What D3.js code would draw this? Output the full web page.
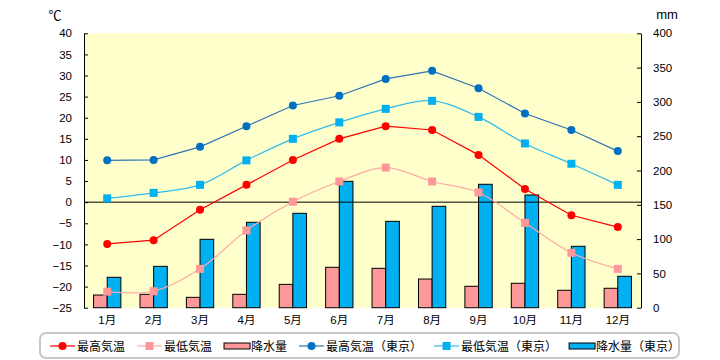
<!DOCTYPE html>
<html><head><meta charset="utf-8">
<script src="https://cdn.jsdelivr.net/npm/d3@7"></script>
<style>
body{margin:0;background:#fff;}
text{font-family:"Liberation Sans","Noto Sans CJK JP",sans-serif;}
</style></head>
<body><svg id="c" width="720" height="360"></svg>
<script>
const months = ["1月","2月","3月","4月","5月","6月","7月","8月","9月","10月","11月","12月"];
const highTemp = [-9.9,-9,-1.8,4.1,10,15,18,17.1,11.2,3.1,-3.1,-5.9];
const lowTemp = [-21.2,-21.1,-15.8,-6.7,0.1,4.9,8.2,4.9,2.3,-4.9,-12,-15.8];
const precip = [18.5,19.5,15.1,19.5,34,58.9,57.4,41.8,31.2,35.6,25.4,28.3];
const highTokyo = [9.9,10,13.1,18,22.9,25.2,29.2,31.1,27,21,17.1,12.1];
const lowTokyo = [0.9,2.2,4.1,9.9,15,18.9,22.1,24,20.2,13.9,9.1,4.1];
const precipTokyo = [44.3,60.3,99.7,124.5,137.6,184.2,125.9,147.8,179.9,164.3,89.5,45.8];
const tempTicks = [-25,-20,-15,-10,-5,0,5,10,15,20,25,30,35,40];
const mmTicks = [0,50,100,150,200,250,300,350,400];
const legendNames = ["最高気温","最低気温","降水量","最高気温（東京）","最低気温（東京）","降水量（東京）"];

const svg = d3.select("#c");
const L=84, R=641, T=33.3, B=307.7;
const x = d3.scaleBand().domain(months).range([L,R]);
const xs = d3.scaleBand().domain(["a","b"]).range([0,x.bandwidth()]).paddingOuter(0.7);
const yT = d3.scaleLinear().domain([-25,40]).range([B,T]);
const yP = d3.scaleLinear().domain([0,400]).range([B,T]);

svg.append("rect").attr("x",L).attr("y",T).attr("width",R-L).attr("height",B-T).attr("fill","#FFFFCC");

const C = {red:"#FF0000", pink:"#FF9999", pinkLine:"#FFA8A8", dblue:"#0070C0", dblueLine:"#2E74B5", lblue:"#00B0F0", lblueLine:"#33BBEE"};

svg.append("g").selectAll("rect").data(precip).join("rect")
  .attr("x",(d,i)=>x(months[i])+xs("a")).attr("width",xs.bandwidth())
  .attr("y",d=>yP(d)).attr("height",d=>yP(0)-yP(d))
  .attr("fill",C.pink).attr("stroke","#000").attr("stroke-width",1);
svg.append("g").selectAll("rect").data(precipTokyo).join("rect")
  .attr("x",(d,i)=>x(months[i])+xs("b")).attr("width",xs.bandwidth())
  .attr("y",d=>yP(d)).attr("height",d=>yP(0)-yP(d))
  .attr("fill",C.lblue).attr("stroke","#000").attr("stroke-width",1);

svg.append("line").attr("x1",L).attr("x2",R).attr("y1",yT(0)).attr("y2",yT(0)).attr("stroke","#000");

const cx = i => x(months[i]) + x.bandwidth()/2;
function series(data, lineColor, markColor, shape, curve){
  const line = d3.line().x((d,i)=>cx(i)).y(d=>yT(d)).curve(curve);
  svg.append("path").attr("d",line(data)).attr("fill","none").attr("stroke",lineColor).attr("stroke-width",1.2);
  const g = svg.append("g");
  if(shape==="circle"){
    g.selectAll("circle").data(data).join("circle").attr("cx",(d,i)=>cx(i)).attr("cy",d=>yT(d)).attr("r",4).attr("fill",markColor);
  } else {
    g.selectAll("rect").data(data).join("rect").attr("x",(d,i)=>cx(i)-4).attr("y",d=>yT(d)-4).attr("width",8).attr("height",8).attr("fill",markColor);
  }
}
series(lowTemp, C.pinkLine, C.pink, "square", d3.curveCatmullRom.alpha(0.5));
series(highTemp, C.red, C.red, "circle", d3.curveLinear);
series(lowTokyo, C.lblueLine, C.lblue, "square", d3.curveCatmullRom.alpha(0.5));
series(highTokyo, C.dblueLine, C.dblue, "circle", d3.curveLinear);

const ax1 = svg.append("g").attr("transform",`translate(${L},0)`)
  .call(d3.axisLeft(yT).tickValues(tempTicks).tickSize(-4).tickSizeOuter(0).tickPadding(12));
const ax2 = svg.append("g").attr("transform",`translate(${R},0)`)
  .call(d3.axisRight(yP).tickValues(mmTicks).tickSize(-4).tickSizeOuter(0).tickPadding(12));
[ax1,ax2].forEach(a=>{a.selectAll("text").attr("font-size",11.5).attr("fill","#000").style("font-family","'Liberation Sans',sans-serif");
  a.select(".domain").attr("stroke","#000"); a.selectAll(".tick line").attr("stroke","#000");});

svg.append("g").selectAll("text").data(months).join("text")
  .attr("x",d=>x(d)+x.bandwidth()/2).attr("y",324).attr("text-anchor","middle").attr("font-size",11.5).text(d=>d);

svg.append("text").attr("x",55).attr("y",20).attr("text-anchor","middle").attr("font-size",13).text("℃");
svg.append("text").attr("x",667).attr("y",19).attr("text-anchor","middle").attr("font-size",13).text("mm");

svg.append("rect").attr("x",40).attr("y",333).attr("width",639).attr("height",25).attr("rx",6)
  .attr("fill","#fff").attr("stroke","#C8C8C8").attr("stroke-width",2);
const lg = svg.append("g");
const legendItems = [
  {type:"line", line:C.red, mark:C.red, shape:"circle"},
  {type:"line", line:C.pinkLine, mark:C.pink, shape:"square"},
  {type:"bar", fill:C.pink},
  {type:"line", line:C.dblueLine, mark:C.dblue, shape:"circle"},
  {type:"line", line:C.lblueLine, mark:C.lblue, shape:"square"},
  {type:"bar", fill:C.lblue}
];
let lx = 50; const ly = 346;
legendItems.forEach((it,i)=>{
  if(it.type==="line"){
    lg.append("line").attr("x1",lx).attr("x2",lx+25).attr("y1",ly).attr("y2",ly).attr("stroke",it.line).attr("stroke-width",1.2);
    if(it.shape==="circle") lg.append("circle").attr("cx",lx+12.5).attr("cy",ly).attr("r",4).attr("fill",it.mark);
    else lg.append("rect").attr("x",lx+8.5).attr("y",ly-4).attr("width",8).attr("height",8).attr("fill",it.mark);
  } else {
    lg.append("rect").attr("x",lx).attr("y",ly-3).attr("width",26).attr("height",6).attr("fill",it.fill).attr("stroke","#000");
  }
  const t = lg.append("text").attr("x",lx+27).attr("y",ly+4.5).attr("font-size",12).text(legendNames[i]);
  lx = lx + 27 + t.node().getComputedTextLength() + 12;
});
</script></body></html>
